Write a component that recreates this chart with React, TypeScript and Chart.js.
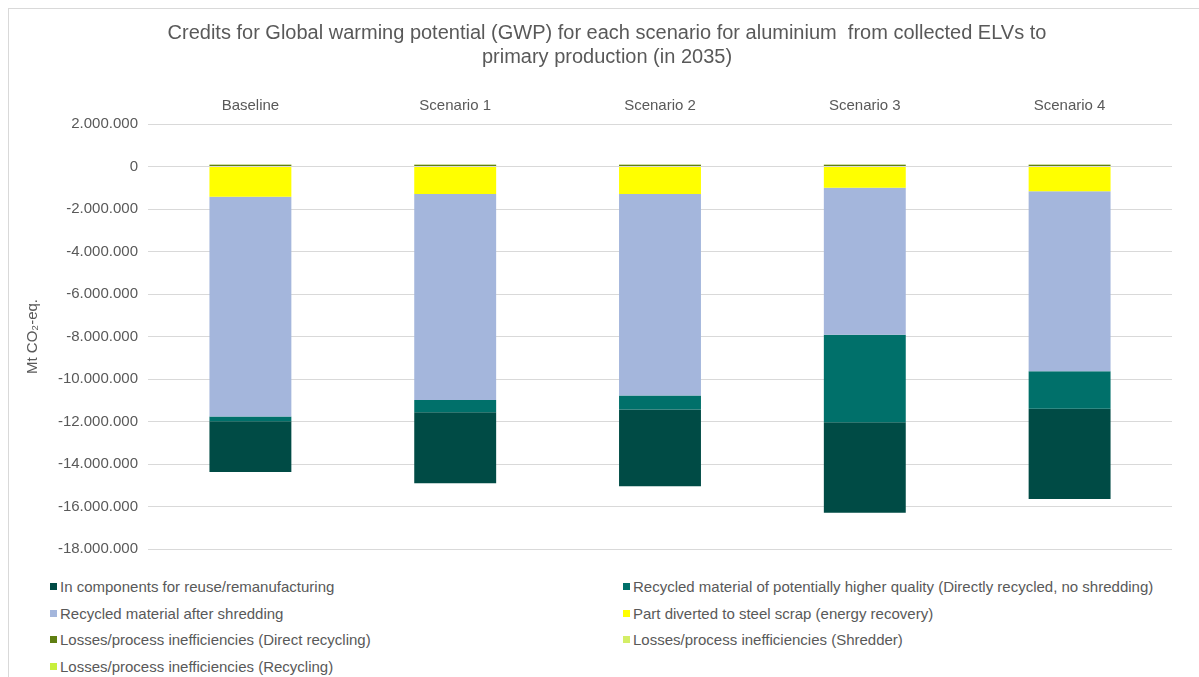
import React, { useEffect, useRef } from "react";
import { Chart, registerables } from "chart.js";

Chart.register(...registerables);

const categories = ["Baseline", "Scenario 1", "Scenario 2", "Scenario 3", "Scenario 4"];

const reuseComponents = [-2390000, -3340000, -3610000, -4250000, -4250000];
const directRecycled = [-220000, -580000, -660000, -4120000, -1760000];
const shreddedRecycled = [-10350000, -9700000, -9490000, -6920000, -8470000];
const steelScrap = [-1420000, -1290000, -1290000, -1000000, -1170000];
const lossesDirect = [80000, 80000, 80000, 80000, 80000];
const lossesShredder = [10000, 10000, 10000, 10000, 10000];
const lossesRecycling = [10000, 10000, 10000, 10000, 10000];

const yTickMin = -18000000;
const yTickMax = 2000000;
const yTickStep = 2000000;

const titleLines = [
  "Credits for Global warming potential (GWP) for each scenario for aluminium  from collected ELVs to",
  "primary production (in 2035)",
];
const yTitle = "Mt CO\u2082-eq.";

const COLORS = {
  reuse: "#004b45",
  direct: "#00706a",
  shredded: "#a4b6dc",
  steel: "#ffff00",
  lossDirect: "#5f7f12",
  lossShredder: "#d4ee66",
  lossRecycling: "#c8ef3c",
};

const legendItems = [
  { label: "In components for reuse/remanufacturing", color: COLORS.reuse },
  { label: "Recycled material of potentially higher quality (Directly recycled, no shredding)", color: COLORS.direct },
  { label: "Recycled material after shredding", color: COLORS.shredded },
  { label: "Part diverted to steel scrap (energy recovery)", color: COLORS.steel },
  { label: "Losses/process inefficiencies (Direct recycling)", color: COLORS.lossDirect },
  { label: "Losses/process inefficiencies (Shredder)", color: COLORS.lossShredder },
  { label: "Losses/process inefficiencies (Recycling)", color: COLORS.lossRecycling },
];

const FONT = '"Liberation Sans", Arial, sans-serif';
const TEXT = "#595959";

function fmt(v: number): string {
  const s = Math.round(Math.abs(v)).toString().replace(/\B(?=(\d{3})+(?!\d))/g, ".");
  return (v < 0 ? "-" : "") + s;
}

export default function App() {
  const ref = useRef<HTMLCanvasElement>(null);

  useEffect(() => {
    if (!ref.current) return;
    const ds = (label: string, data: number[], color: string) => ({
      label,
      data,
      backgroundColor: color,
      borderWidth: 0,
      categoryPercentage: 0.4,
      barPercentage: 1,
    });
    const chart = new Chart(ref.current, {
      type: "bar",
      data: {
        labels: categories,
        datasets: [
          ds(legendItems[3].label, steelScrap, COLORS.steel),
          ds(legendItems[2].label, shreddedRecycled, COLORS.shredded),
          ds(legendItems[1].label, directRecycled, COLORS.direct),
          ds(legendItems[0].label, reuseComponents, COLORS.reuse),
          ds(legendItems[4].label, lossesDirect, COLORS.lossDirect),
          ds(legendItems[5].label, lossesShredder, COLORS.lossShredder),
          ds(legendItems[6].label, lossesRecycling, COLORS.lossRecycling),
        ],
      },
      options: {
        responsive: false,
        animation: false,
        layout: { padding: { left: 0, right: 0, top: 0, bottom: 20 } },
        plugins: {
          legend: { display: false },
          tooltip: { enabled: false },
          title: {
            display: true,
            text: titleLines,
            color: TEXT,
            font: { family: FONT, size: 20, weight: "normal", lineHeight: 1.2 },
            padding: { top: 12, bottom: 27 },
          },
        },
        scales: {
          x: {
            position: "top",
            stacked: true,
            grid: { display: false },
            border: { display: false },
            ticks: { color: TEXT, font: { family: FONT, size: 15 }, padding: 1 },
          },
          y: {
            stacked: true,
            min: yTickMin,
            max: yTickMax,
            ticks: {
              stepSize: yTickStep,
              callback: (v: any) => fmt(Number(v)),
              color: TEXT,
              font: { family: FONT, size: 15 },
              padding: 10,
            },
            grid: { color: "#d9d9d9", drawTicks: false, lineWidth: 1 },
            border: { display: false },
            title: {
              display: true,
              text: yTitle,
              color: TEXT,
              font: { family: FONT, size: 15 },
              padding: { top: 15, bottom: 0 },
            },
            afterFit: (s: any) => {
              s.width = 139;
            },
          },
          yR: {
            type: "linear",
            position: "right",
            display: true,
            grid: { display: false },
            border: { display: false },
            ticks: { display: false },
            afterFit: (s: any) => {
              s.width = 33;
            },
          },
        },
      } as any,
    });
    return () => chart.destroy();
  }, []);

  const rowCenters = [586, 613, 639, 666];
  const colMarker = [50, 623];

  return (
    <div
      style={{
        position: "absolute",
        left: 0,
        top: 0,
        width: 1199,
        height: 677,
        overflow: "hidden",
        background: "#fff",
        fontFamily: FONT,
      }}
    >
      <div
        style={{
          position: "absolute",
          left: 8,
          top: 8,
          width: 1197,
          height: 700,
          borderLeft: "1px solid #d9d9d9",
          borderTop: "1px solid #d9d9d9",
        }}
      />
      <div style={{ position: "absolute", left: 9, top: 9, width: 1196, height: 560 }}>
        <canvas ref={ref} width={1196} height={560} style={{ width: 1196, height: 560, display: "block" }} />
      </div>
      {legendItems.map((it, i) => {
        const row = Math.floor(i / 2);
        const col = i % 2;
        return (
          <div
            key={i}
            style={{
              position: "absolute",
              left: colMarker[col],
              top: rowCenters[row] - 10,
              height: 20,
              display: "flex",
              alignItems: "center",
              whiteSpace: "nowrap",
              color: TEXT,
              fontSize: 15,
            }}
          >
            <span style={{ display: "inline-block", width: 7, height: 7, background: it.color, marginRight: 3 }} />
            <span>{it.label}</span>
          </div>
        );
      })}
    </div>
  );
}
